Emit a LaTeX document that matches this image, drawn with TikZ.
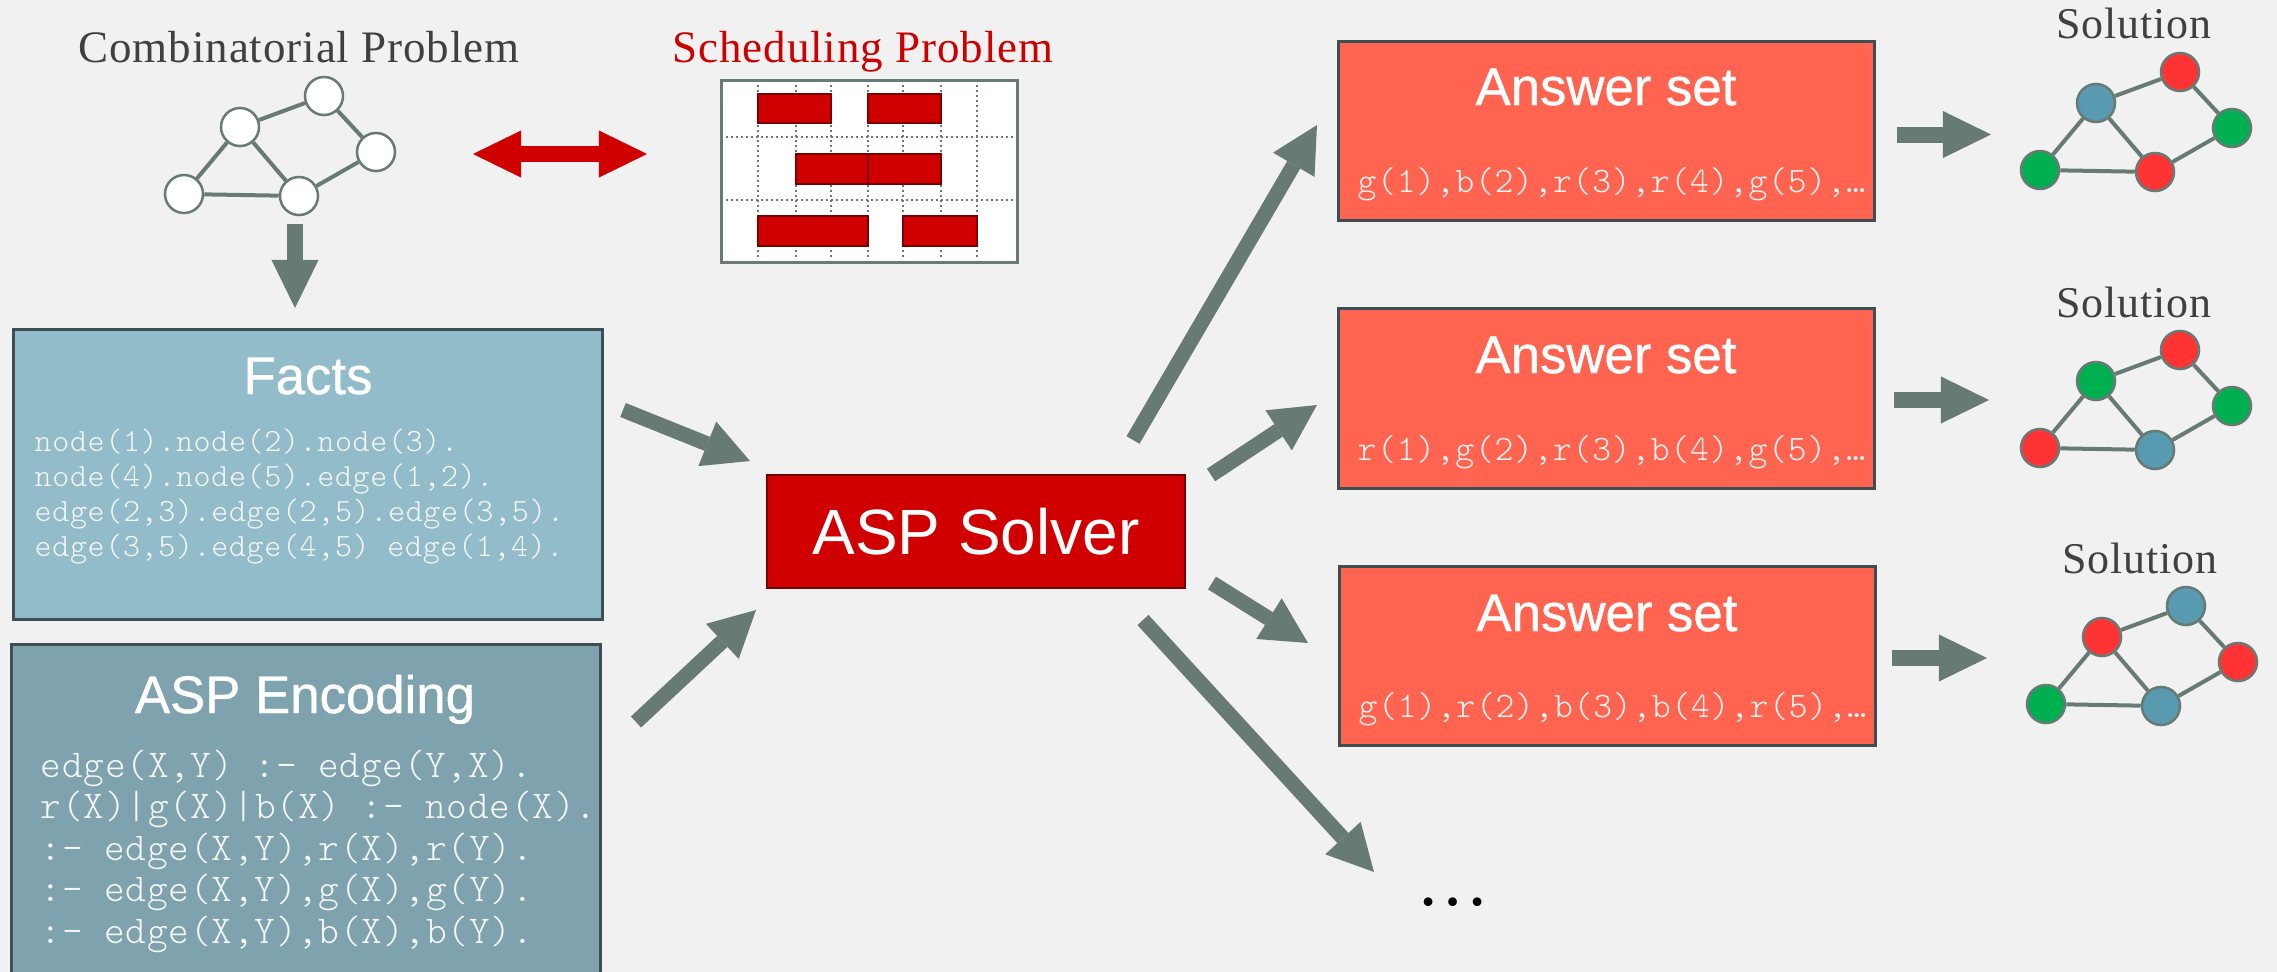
\documentclass[tikz,border=0pt]{standalone}
\usepackage{fontspec}
\usetikzlibrary{arrows.meta}
\newfontfamily\labelfont{Liberation Serif}[LetterSpace=2]
\newfontfamily\headfont{Liberation Sans}
\newfontfamily\headboldish{Liberation Sans}[FakeBold=0.8]
\newfontfamily\codefont{lmmonolt10-regular}[Extension=.otf, LetterSpace=2]
\definecolor{bgc}{RGB}{240,241,240}
\definecolor{agrey}{RGB}{104,122,116}
\definecolor{dborder}{RGB}{61,79,85}
\definecolor{factfill}{RGB}{147,188,202}
\definecolor{encfill}{RGB}{127,163,174}
\definecolor{solvred}{RGB}{208,0,0}
\definecolor{solvborder}{RGB}{110,0,0}
\definecolor{ansfill}{RGB}{255,100,80}
\definecolor{labgrey}{RGB}{64,64,64}
\definecolor{labred}{RGB}{204,0,0}
\definecolor{gblue}{RGB}{88,154,176}
\definecolor{gred}{RGB}{255,51,51}
\definecolor{ggreen}{RGB}{0,176,80}
\definecolor{barborder}{RGB}{120,0,0}
\definecolor{codewhite}{RGB}{246,246,246}
\tikzset{
  bigarrow/.style={draw=agrey, line width=0.15cm, -{Triangle[length=0.46cm,width=0.48cm,line width=0pt]}},
  flatarrow/.style={draw=agrey, line width=0.16cm, -{Triangle[length=0.48cm,width=0.47cm,line width=0pt]}},
  redarrow/.style={draw=solvred, line width=0.16cm, {Triangle[length=0.48cm,width=0.47cm,line width=0pt]}-{Triangle[length=0.48cm,width=0.47cm,line width=0pt]}},
  gnode/.style={circle, draw=agrey, line width=0.025cm, minimum size=0.38cm, inner sep=0pt},
  gedge/.style={draw=agrey, line width=0.04cm},
  plainbox/.style={rectangle, draw=dborder, line width=0.025cm, inner sep=0pt, anchor=north west},
  headtext/.style={font=\headboldish\fontsize{15pt}{18pt}\selectfont, text=white, anchor=base, inner sep=0pt},
  codeline/.style={font=\codefont\fontsize{#1}{#1}\selectfont, text=codewhite, anchor=base west, inner sep=0pt},
  lab/.style={font=\labelfont\fontsize{12.8pt}{15pt}\selectfont, anchor=base, inner sep=0pt},
  dotline/.style={draw=agrey, line width=0.02cm, dash pattern=on 0.02cm off 0.03cm},
  bar/.style={draw=barborder, fill=solvred, line width=0.02cm}
}
\newcommand{\solgraph}[7]{%
  \begin{scope}[shift={#2}]
    \node[gnode, fill=#3] (#1A) at (240,127) {};
    \node[gnode, fill=#4] (#1B) at (324,96) {};
    \node[gnode, fill=#5] (#1C) at (376,152) {};
    \node[gnode, fill=#6] (#1D) at (299,196) {};
    \node[gnode, fill=#7] (#1E) at (184,194) {};
    \draw[gedge] (#1E) -- (#1A) (#1A) -- (#1B) (#1B) -- (#1C) (#1C) -- (#1D) (#1D) -- (#1E) (#1A) -- (#1D);
  \end{scope}}
\begin{document}
\begin{tikzpicture}[x=0.01cm, y=-0.01cm]
\useasboundingbox (0,0) rectangle (2277,972);
\fill[bgc] (0,0) rectangle (2277,972);

% labels
\node[lab, text=labgrey] (combT) at (299,62) {Combinatorial Problem};
\node[lab, text=labred] (schedT) at (863,62) {Scheduling Problem};

% problem graph
\solgraph{g}{(0,0)}{white}{white}{white}{white}{white}

% down arrow
\coordinate (dA) at (295,224);
\coordinate (dB) at (295,308);
\draw[flatarrow] (dA) -- (dB);

% red double arrow
\coordinate (rA) at (473,154);
\coordinate (rB) at (647,154);
\draw[redarrow] (rA) -- (rB);

% schedule
\node[rectangle, draw=agrey, line width=0.025cm, fill=white, minimum width=2.96cm, minimum height=1.82cm, anchor=north west, inner sep=0pt] (sched) at (720,79) {};
\foreach \x in {758,796,831,868,903,941,977} \draw[dotline] (\x,80) -- (\x,260);
\foreach \y in {137,200} \draw[dotline] (721,\y) -- (1015,\y);
\draw[bar] (758,94) rectangle (831,123);
\draw[bar] (868,94) rectangle (941,123);
\draw[bar] (796,154) rectangle (868,184);
\draw[bar] (868,154) rectangle (941,184);
\draw[bar] (758,216) rectangle (868,246);
\draw[bar] (903,216) rectangle (977,246);

% facts
\node[plainbox, fill=factfill, minimum width=5.89cm, minimum height=2.90cm] (facts) at (12,328) {};
\node[headtext] (factsT) at (308,394) {Facts};
\node[codeline=9.22pt] (f1) at (34,451) {node(1).node(2).node(3).};
\node[codeline=9.22pt] (f2) at (34,486) {node(4).node(5).edge(1,2).};
\node[codeline=9.22pt] (f3) at (34,521) {edge(2,3).edge(2,5).edge(3,5).};
\node[codeline=9.22pt] (f4) at (34,556) {edge(3,5).edge(4,5) edge(1,4).};

% encoding
\node[plainbox, fill=encfill, minimum width=5.89cm, minimum height=3.6cm] (enc) at (10,643) {};
\node[headtext] (encT) at (305,713) {ASP Encoding};
\node[codeline=11.2pt] (e1) at (40,777) {edge(X,Y) :- edge(Y,X).};
\node[codeline=11.2pt] (e2) at (40,818.5) {r(X)|g(X)|b(X) :- node(X).};
\node[codeline=11.2pt] (e3) at (40,860) {:- edge(X,Y),r(X),r(Y).};
\node[codeline=11.2pt] (e4) at (40,901.5) {:- edge(X,Y),g(X),g(Y).};
\node[codeline=11.2pt] (e5) at (40,943) {:- edge(X,Y),b(X),b(Y).};

% solver
\node[rectangle, draw=solvborder, fill=solvred, line width=0.025cm, minimum width=4.18cm, minimum height=1.13cm, inner sep=0pt, text=white, font=\headfont\fontsize{18.2pt}{20pt}\selectfont] (solver) at (976,531.5) {ASP Solver};

% answer sets
\node[plainbox, fill=ansfill, minimum width=5.36cm, minimum height=1.79cm] (as1) at (1337,40) {};
\node[plainbox, fill=ansfill, minimum width=5.36cm, minimum height=1.80cm] (as2) at (1337,307) {};
\node[plainbox, fill=ansfill, minimum width=5.36cm, minimum height=1.79cm] (as3) at (1338,565) {};
\node[headtext] (asT1) at (1606,105) {Answer set};
\node[headtext] (asT2) at (1606,373) {Answer set};
\node[headtext] (asT3) at (1607,631) {Answer set};
\node[codeline=10.2pt] (a1) at (1357,192) {g(1),b(2),r(3),r(4),g(5),…};
\node[codeline=10.2pt] (a2) at (1357,460) {r(1),g(2),r(3),b(4),g(5),…};
\node[codeline=10.2pt] (a3) at (1358,717) {g(1),r(2),b(3),b(4),r(5),…};

% dots
\node[font=\labelfont\fontsize{20.8pt}{24pt}\selectfont, anchor=base, inner sep=0pt] (dots) at (1453,905) {…};

% arrows into and out of the solver
\coordinate (fa) at (623,410); \coordinate (fb) at (750,461);
\coordinate (ea) at (636,722); \coordinate (eb) at (756,610);
\coordinate (s1a) at (1133,440); \coordinate (s1b) at (1317,125);
\coordinate (s2a) at (1211,475); \coordinate (s2b) at (1317,405);
\coordinate (s3a) at (1212,583); \coordinate (s3b) at (1308,643);
\coordinate (s4a) at (1143,620); \coordinate (s4b) at (1374,872);
\draw[bigarrow] (fa) -- (fb);
\draw[bigarrow] (ea) -- (eb);
\draw[bigarrow] (s1a) -- (s1b);
\draw[bigarrow] (s2a) -- (s2b);
\draw[bigarrow] (s3a) -- (s3b);
\draw[bigarrow] (s4a) -- (s4b);

% arrows to solutions
\coordinate (o1a) at (1897,134.5); \coordinate (o1b) at (1991,134.5);
\coordinate (o2a) at (1894,400); \coordinate (o2b) at (1989,400);
\coordinate (o3a) at (1892,658); \coordinate (o3b) at (1987,658);
\draw[flatarrow] (o1a) -- (o1b);
\draw[flatarrow] (o2a) -- (o2b);
\draw[flatarrow] (o3a) -- (o3b);

% solutions
\node[lab, text=labgrey, font=\labelfont\fontsize{12.5pt}{15pt}\selectfont] (solT1) at (2134,38) {Solution};
\node[lab, text=labgrey, font=\labelfont\fontsize{12.5pt}{15pt}\selectfont] (solT2) at (2134,317) {Solution};
\node[lab, text=labgrey, font=\labelfont\fontsize{12.5pt}{15pt}\selectfont] (solT3) at (2140,573) {Solution};
\solgraph{p}{(1856,-24)}{gblue}{gred}{ggreen}{gred}{ggreen}
\solgraph{q}{(1856,254)}{ggreen}{gred}{ggreen}{gblue}{gred}
\solgraph{s}{(1862,510)}{gred}{gblue}{gred}{gblue}{ggreen}
\end{tikzpicture}
\end{document}
